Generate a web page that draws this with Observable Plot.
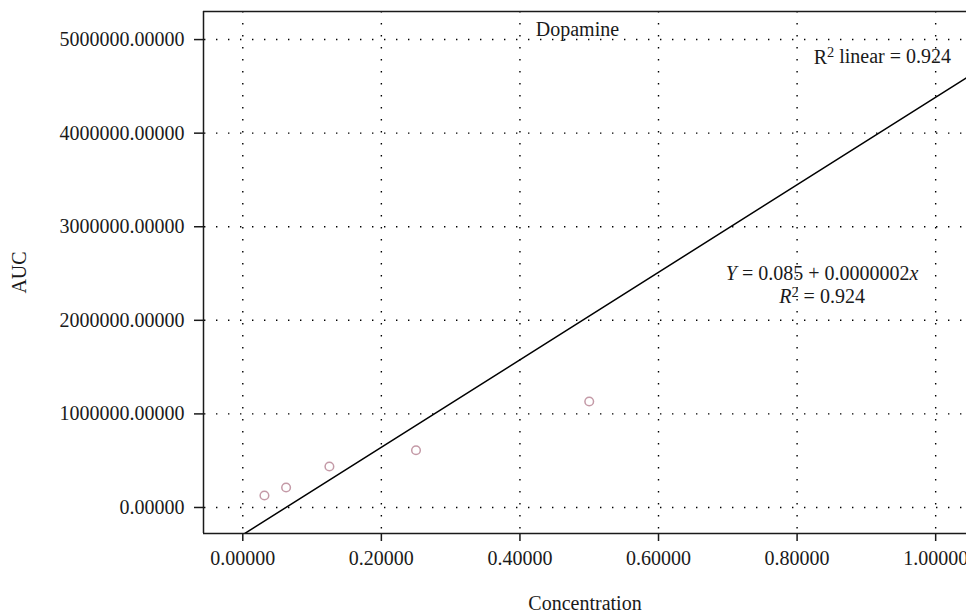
<!DOCTYPE html>
<html>
<head>
<meta charset="utf-8">
<script src="https://cdn.jsdelivr.net/npm/d3@7"></script>
<script src="https://cdn.jsdelivr.net/npm/@observablehq/plot@0.6"></script>
<style>
  html, body { margin: 0; padding: 0; background: #fff; overflow: hidden; }
  #chart svg { overflow: visible; }
</style>
</head>
<body>
<div id="chart"></div>
<script>
// ---- data ----
const concentration = [0.03125, 0.0625, 0.125, 0.25, 0.5];
const auc = [128000, 214000, 438000, 612000, 1132000];
const xTicks = [0, 0.2, 0.4, 0.6, 0.8, 1.0];
const yTicks = [0, 1000000, 2000000, 3000000, 4000000, 5000000];
const xDomain = [-0.0567, 1.0445];
const yDomain = [-278000, 5300000];
const fitIntercept = -291000;
const fitSlope = 4674000;
const titleText = ["Dopamine"];
const r2Text = ["R2 linear = 0.924"];
const eqLines = ["Y = 0.085 + 0.0000002x", "R2 = 0.924"];
const titlePos = [0.483, 5040000];
const r2Pos = [0.923, 4744000];
const eqPos = [0.836, 2436000, 2180000];

const points = concentration.map((c, i) => ({c, a: auc[i]}));
const fitLine = xDomain.map(c => ({c, a: fitIntercept + fitSlope * c}));

const font = "'Liberation Serif', 'DejaVu Serif', serif";
const fs = 20;

const chart = Plot.plot({
  width: 966,
  height: 614,
  marginLeft: 203,
  marginRight: 0,
  marginTop: 11,
  marginBottom: 81,
  style: {fontFamily: font, fontSize: fs + "px", color: "#1a1a1a", background: "#fff"},
  x: {domain: xDomain},
  y: {domain: yDomain},
  marks: [
    Plot.gridX(xTicks, {stroke: "#000", strokeOpacity: 1, strokeWidth: 1.4, strokeDasharray: "1.4,10.6"}),
    Plot.gridY(yTicks, {stroke: "#000", strokeOpacity: 1, strokeWidth: 1.4, strokeDasharray: "1.4,10.6", strokeDashoffset: -13}),
    Plot.axisX(xTicks, {tickFormat: d3.format(".5f"), tickSize: 8, tickPadding: 9, fontSize: fs, stroke: "#1a1a1a", strokeWidth: 1.5, label: "Concentration", labelArrow: "none", labelAnchor: "center", labelOffset: 76}),
    Plot.axisY(yTicks, {tickFormat: d3.format(".5f"), tickSize: 9, tickPadding: 10, fontSize: fs, stroke: "#1a1a1a", strokeWidth: 1.5, label: "AUC", labelArrow: "none", labelAnchor: "center", labelOffset: 192}),
    Plot.ruleX([xDomain[0]], {stroke: "#1a1a1a", strokeWidth: 1.5}),
    Plot.ruleY([yDomain[0]], {stroke: "#1a1a1a", strokeWidth: 1.5}),
    Plot.ruleY([yDomain[1]], {stroke: "#1a1a1a", strokeWidth: 1.5}),
    Plot.line(fitLine, {x: "c", y: "a", stroke: "#000", strokeWidth: 1.5, clip: true}),
    Plot.dot(points, {x: "c", y: "a", r: 4.3, stroke: "#c49aa7", strokeWidth: 1.5, fill: "none"}),
    Plot.text(titleText, {x: titlePos[0], y: titlePos[1], text: d => d, fontSize: fs, lineAnchor: "bottom", fill: "#1a1a1a"}),
    Plot.text(r2Text, {x: r2Pos[0], y: r2Pos[1], text: d => d, fontSize: fs, lineAnchor: "bottom", fill: "#1a1a1a", className: "r2lin"}),
    Plot.text([eqLines[0]], {x: eqPos[0], y: eqPos[1], text: d => d, fontSize: fs, lineAnchor: "bottom", fill: "#1a1a1a", className: "eq1"}),
    Plot.text([eqLines[1]], {x: eqPos[0], y: eqPos[2], text: d => d, fontSize: fs, lineAnchor: "bottom", fill: "#1a1a1a", className: "eq2"})
  ]
});

document.getElementById("chart").appendChild(chart);

// rich text: italics and superscripts
const svg = d3.select(chart);
function sup(t, s) {
  t.append("tspan").attr("dy", "-0.42em").attr("font-size", "0.72em").text(s);
}
svg.selectAll(".r2lin text").each(function() {
  const t = d3.select(this);
  t.text(null);
  t.append("tspan").text("R");
  sup(t, "2");
  t.append("tspan").attr("dy", "0.3em").text(" linear = 0.924");
});
svg.selectAll(".eq1 text").each(function() {
  const t = d3.select(this);
  t.text(null);
  t.append("tspan").attr("font-style", "italic").text("Y");
  t.append("tspan").text(" = 0.085 + 0.0000002");
  t.append("tspan").attr("font-style", "italic").text("x");
});
svg.selectAll(".eq2 text").each(function() {
  const t = d3.select(this);
  t.text(null);
  t.append("tspan").attr("font-style", "italic").text("R");
  sup(t, "2");
  t.append("tspan").attr("dy", "0.3em").text(" = 0.924");
});
</script>
</body>
</html>
